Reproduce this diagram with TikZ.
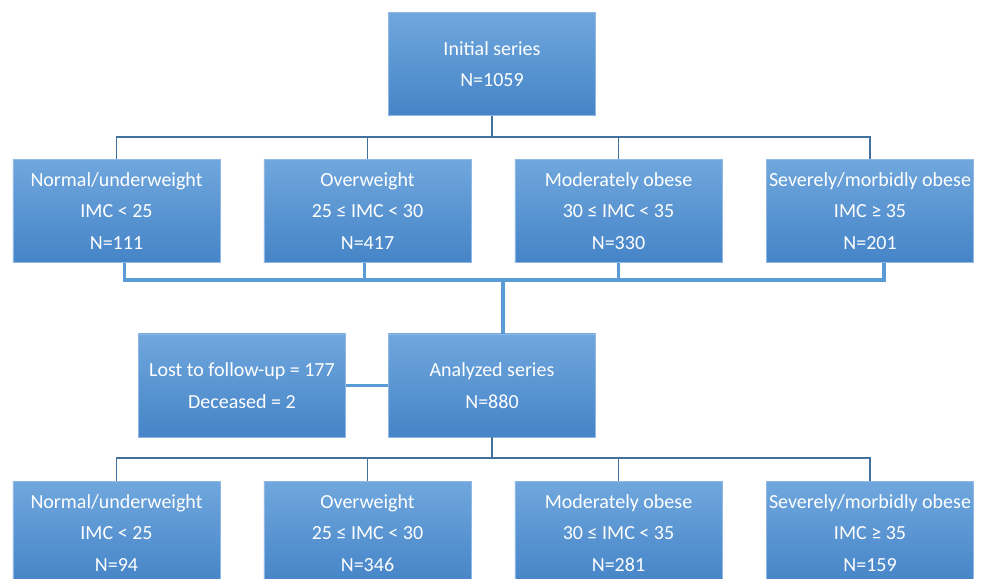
\documentclass[tikz,border=0pt]{standalone}
\usepackage{fontspec}
\setmainfont{Carlito}
\usetikzlibrary{positioning}
\definecolor{boxtop}{HTML}{70A7DD}
\definecolor{boxbot}{HTML}{4584C7}
\definecolor{boxrim}{HTML}{8FB9E4}
\definecolor{linkdark}{HTML}{41719C}
\definecolor{linklight}{HTML}{5B9BD5}
\begin{document}
\begin{tikzpicture}[x=0.75pt,y=-0.75pt,
	groupbox/.style={rectangle,draw=boxrim,line width=0.4pt,top color=boxtop,bottom color=boxbot,
		text=white,font=\fontsize{15}{23.5}\selectfont,align=center,
		minimum width=155.5pt,minimum height=77.5pt,inner sep=0pt},
	treeline/.style={draw=linkdark,line width=1.3pt},
	mergeline/.style={draw=linklight,line width=2.4pt}
]
\clip (0,0) rectangle (984,578);

% initial series and the four groups
\node (init) [groupbox] at (492,64) {Initial series\\N=1059};
\node (a1) [groupbox] at (116.5,211) {Normal/underweight\\IMC < 25\\N=111};
\node (a2) [groupbox] at (367.5,211) {Overweight\\25 ≤ IMC < 30\\N=417};
\node (a3) [groupbox] at (618.5,211) {Moderately obese\\30 ≤ IMC < 35\\N=330};
\node (a4) [groupbox] at (870,211) {Severely/morbidly obese\\IMC ≥ 35\\N=201};

% analyzed series
\node (lost) [groupbox] at (242,385.5) {Lost to follow-up = 177\\Deceased = 2};
\node (anal) [groupbox] at (492,385.5) {Analyzed series\\N=880};

\node (b1) [groupbox] at (116.5,533) {Normal/underweight\\IMC < 25\\N=94};
\node (b2) [groupbox] at (367.5,533) {Overweight\\25 ≤ IMC < 30\\N=346};
\node (b3) [groupbox] at (618.5,533) {Moderately obese\\30 ≤ IMC < 35\\N=281};
\node (b4) [groupbox] at (870,533) {Severely/morbidly obese\\IMC ≥ 35\\N=159};

\coordinate (split1) at (492,137);
\coordinate (merge) at (503,280);
\coordinate (split2) at (492,458);

\draw[treeline] (init.south) -- (split1);
\foreach \n in {a1,a2,a3,a4}
	\draw[treeline] (\n.north) |- (split1);

\draw[mergeline] ([xshift=6pt]a1.south) |- (merge);
\draw[mergeline] ([xshift=-2pt]a2.south) |- (merge);
\draw[mergeline] (a3.south) |- (merge);
\draw[mergeline] ([xshift=10.5pt]a4.south) |- (merge);
\draw[mergeline] (merge) -- ([xshift=8.25pt]anal.north);
\draw[mergeline] (lost) -- (anal);

\draw[treeline] (anal.south) -- (split2);
\foreach \n in {b1,b2,b3,b4}
	\draw[treeline] (\n.north) |- (split2);
\end{tikzpicture}
\end{document}
